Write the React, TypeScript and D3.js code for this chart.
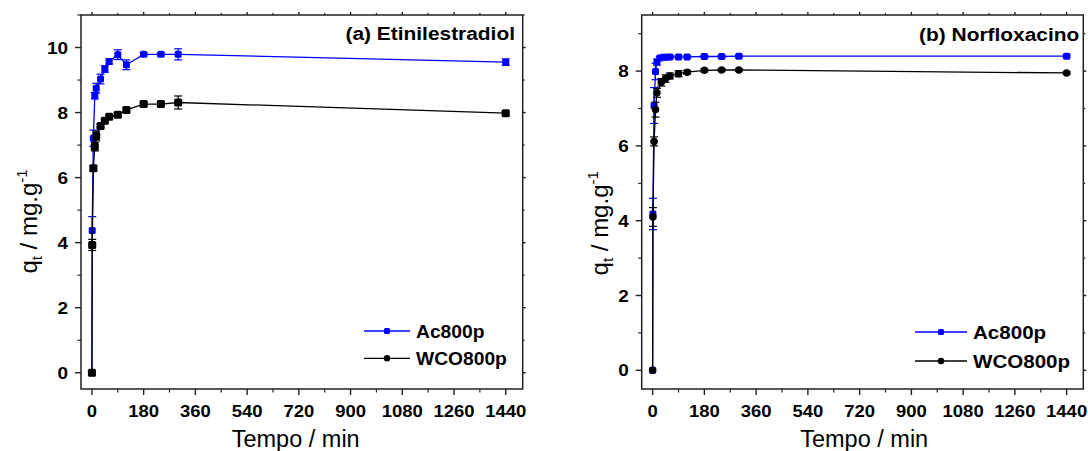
import React from "react";
import * as d3 from "d3";

// ---- data ----
const xTicks = [0, 180, 360, 540, 720, 900, 1080, 1260, 1440];
const xMinor = [90, 270, 450, 630, 810, 990, 1170, 1350];

const timesA = [0, 1, 5, 10, 15, 30, 45, 60, 90, 120, 180, 240, 300, 1440];
const acA = [0, 4.37, 7.21, 8.52, 8.75, 9.03, 9.34, 9.57, 9.78, 9.47, 9.79, 9.79, 9.79, 9.55];
const acAErr = [0, 0.43, 0.25, 0.1, 0.15, 0.15, 0.1, 0.08, 0.15, 0.15, 0.05, 0.05, 0.17, 0.1];
const wcoA = [0, 3.93, 6.29, 6.95, 7.28, 7.59, 7.75, 7.87, 7.93, 8.08, 8.26, 8.26, 8.31, 7.98];
const wcoAErr = [0, 0.17, 0.08, 0.13, 0.15, 0.05, 0.05, 0.05, 0.06, 0.06, 0.06, 0.06, 0.2, 0.06];
const yTicksA = [0, 2, 4, 6, 8, 10];
const yMinorA = [1, 3, 5, 7, 9, 11];

const timesBAc = [0, 1, 5, 10, 15, 25, 37, 48, 60, 90, 120, 180, 240, 300, 1440];
const acB = [0, 4.18, 7.08, 7.99, 8.24, 8.35, 8.37, 8.37, 8.38, 8.38, 8.38, 8.39, 8.39, 8.4, 8.4];
const acBErr = [0, 0.42, 0.48, 0.22, 0.08, 0.04, 0.03, 0.03, 0.03, 0.03, 0.03, 0.03, 0.03, 0.03, 0.03];
const timesBWco = [0, 1, 5, 10, 15, 30, 45, 60, 90, 120, 180, 240, 300, 1440];
const wcoB = [0, 4.1, 6.12, 6.97, 7.42, 7.7, 7.8, 7.87, 7.93, 7.97, 8.02, 8.03, 8.03, 7.95];
const wcoBErr = [0, 0.25, 0.12, 0.2, 0.12, 0.1, 0.1, 0.08, 0.08, 0.05, 0.04, 0.03, 0.03, 0.03];
const yTicksB = [0, 2, 4, 6, 8];
const yMinorB = [1, 3, 5, 7, 9];

const seriesNames = ["Ac800p", "WCO800p"];
const BLUE = "#0000ff";
const FONT = "'Liberation Sans', Arial, Helvetica, sans-serif";

type Series = { t: number[]; v: number[]; e: number[]; color: string; marker: "square" | "circle"; size: number; legendMarker: "square" | "circle" };

function T({ x, y, sx = 1, size, bold = true, anchor = "start", children }: any) {
  return (
    <text
      transform={`translate(${x},${y}) scale(${sx},1)`}
      fontFamily={FONT}
      fontSize={size}
      fontWeight={bold ? "bold" : "normal"}
      textAnchor={anchor}
      fill="#000"
    >
      {children}
    </text>
  );
}

function Marker({ x, y, kind, size, color }: any) {
  if (kind === "circle") return <circle cx={x} cy={y} r={size / 2} fill={color} />;
  return <rect x={x - size / 2} y={y - size / 2} width={size} height={size} rx={1.5} fill={color} />;
}

function Panel(props: {
  left: number; right: number; top: number; bottom: number;
  xDomain: [number, number]; yDomain: [number, number];
  yTicks: number[]; yMinor: number[];
  series: Series[]; title: string; titleX: number; titleY: number; titleSize: number;
  legendX: number; legendY: number[]; legendSize: number; legendLen: number;
  xTitleX: number; yTitleX: number; yTitleY: number;
}) {
  const { left, right, top, bottom } = props;
  const x = d3.scaleLinear().domain(props.xDomain).range([left, right]);
  const y = d3.scaleLinear().domain(props.yDomain).range([bottom, top]);
  const line = d3.line<[number, number]>().x((d) => x(d[0])).y((d) => y(d[1]));
  const axisColor = "#222";
  return (
    <g>
      {/* series (index 0 = Ac800p drawn first, WCO800p on top) */}
      {props.series.map((s, si) => {
        const pts = s.t.map((t, i) => [t, s.v[i]] as [number, number]);
        return (
          <g key={si}>
            <path d={line(pts) || ""} fill="none" stroke={s.color} strokeWidth={1.3} />
            {pts.map((p, i) =>
              s.e[i] > 0 ? (
                <g key={"e" + i} stroke={s.color} strokeWidth={1.2}>
                  <line x1={x(p[0])} x2={x(p[0])} y1={y(p[1] - s.e[i])} y2={y(p[1] + s.e[i])} />
                  <line x1={x(p[0]) - 4} x2={x(p[0]) + 4} y1={y(p[1] - s.e[i])} y2={y(p[1] - s.e[i])} />
                  <line x1={x(p[0]) - 4} x2={x(p[0]) + 4} y1={y(p[1] + s.e[i])} y2={y(p[1] + s.e[i])} />
                </g>
              ) : null
            )}
            {pts.map((p, i) => (
              <Marker key={"m" + i} x={x(p[0])} y={y(p[1])} kind={s.marker} size={s.size} color={s.color} />
            ))}
          </g>
        );
      })}
      {/* frame */}
      <rect x={left} y={top} width={right - left} height={bottom - top} fill="none" stroke={axisColor} strokeWidth={1.5} />
      {/* x ticks */}
      {xTicks.map((t) => (
        <g key={"xt" + t} stroke={axisColor} strokeWidth={1.4}>
          <line x1={x(t)} x2={x(t)} y1={bottom} y2={bottom + 6} />
          <line x1={x(t)} x2={x(t)} y1={top} y2={top - 3} />
        </g>
      ))}
      {xMinor.map((t) => (
        <g key={"xm" + t} stroke={axisColor} strokeWidth={1.2}>
          <line x1={x(t)} x2={x(t)} y1={bottom} y2={bottom + 3.5} />
          <line x1={x(t)} x2={x(t)} y1={top} y2={top - 2} />
        </g>
      ))}
      {xTicks.map((t) => (
        <T key={"xl" + t} x={x(t)} y={bottom + 28} sx={1.12} size={16.5} anchor="middle">{t}</T>
      ))}
      {/* y ticks */}
      {props.yTicks.map((v) => (
        <g key={"yt" + v} stroke={axisColor} strokeWidth={1.4}>
          <line x1={left} x2={left - 6} y1={y(v)} y2={y(v)} />
          <line x1={right} x2={right + 3} y1={y(v)} y2={y(v)} />
        </g>
      ))}
      {props.yMinor.filter((v) => y(v) >= top).map((v) => (
        <g key={"ym" + v} stroke={axisColor} strokeWidth={1.2}>
          <line x1={left} x2={left - 3.5} y1={y(v)} y2={y(v)} />
          <line x1={right} x2={right + 2} y1={y(v)} y2={y(v)} />
        </g>
      ))}
      {props.yTicks.map((v) => (
        <T key={"yl" + v} x={left - 13} y={y(v) + 6} sx={1.15} size={16.5} anchor="end">{v}</T>
      ))}
      {/* axis titles */}
      <T x={props.xTitleX} y={447} size={23.5} bold={false} anchor="middle">Tempo / min</T>
      <text
        transform={`translate(${props.yTitleX},${props.yTitleY}) rotate(-90)`}
        fontFamily={FONT}
        fontSize={24}
        textAnchor="middle"
        fill="#000"
      >
        q<tspan fontSize={15} dy={5}>t</tspan>
        <tspan dy={-5}> / mg.g</tspan>
        <tspan fontSize={15} dy={-10}>-1</tspan>
      </text>
      {/* title */}
      <T x={props.titleX} y={props.titleY} sx={1.1} size={props.titleSize} anchor="end">{props.title}</T>
      {/* legend */}
      {props.series.map((s, i) => {
        const ly = props.legendY[i];
        return (
          <g key={"lg" + i}>
            <line x1={props.legendX} x2={props.legendX + props.legendLen} y1={ly} y2={ly} stroke={s.color} strokeWidth={1.3} />
            <Marker x={props.legendX + props.legendLen / 2} y={ly} kind={s.legendMarker} size={i === 0 ? 6 : 6.5} color={s.color} />
            <T x={props.legendX + props.legendLen + 6} y={ly + 6.5} sx={1.1} size={props.legendSize}>{seriesNames[i]}</T>
          </g>
        );
      })}
    </g>
  );
}

export default function App() {
  const seriesA: Series[] = [
    { t: timesA, v: acA, e: acAErr, color: BLUE, marker: "square", size: 7, legendMarker: "square" },
    { t: timesA, v: wcoA, e: wcoAErr, color: "#000", marker: "square", size: 8, legendMarker: "circle" },
  ];
  const seriesB: Series[] = [
    { t: timesBAc, v: acB, e: acBErr, color: BLUE, marker: "square", size: 7, legendMarker: "square" },
    { t: timesBWco, v: wcoB, e: wcoBErr, color: "#000", marker: "circle", size: 7.5, legendMarker: "circle" },
  ];
  return (
    <svg width={1088} height={451} style={{ position: "absolute", left: 0, top: 0, background: "#fff" }}>
      <rect width={1088} height={451} fill="#fff" />
      <Panel
        left={81} right={522.7} top={15} bottom={389}
        xDomain={[-38, 1499]} yDomain={[-0.5, 11]}
        yTicks={yTicksA} yMinor={yMinorA}
        series={seriesA}
        title="(a) Etinilestradiol" titleX={515} titleY={40} titleSize={19}
        legendX={364} legendY={[331, 358.3]} legendSize={17.5} legendLen={46}
        xTitleX={295.7} yTitleX={37} yTitleY={221.5}
      />
      <Panel
        left={641.7} right={1083.3} top={15} bottom={389}
        xDomain={[-38, 1498]} yDomain={[-0.5, 9.5]}
        yTicks={yTicksB} yMinor={yMinorB}
        series={seriesB}
        title="(b) Norfloxacino" titleX={1079.3} titleY={41} titleSize={19}
        legendX={915} legendY={[332, 361]} legendSize={18.7} legendLen={52}
        xTitleX={864.2} yTitleX={608} yTitleY={223.3}
      />
    </svg>
  );
}
